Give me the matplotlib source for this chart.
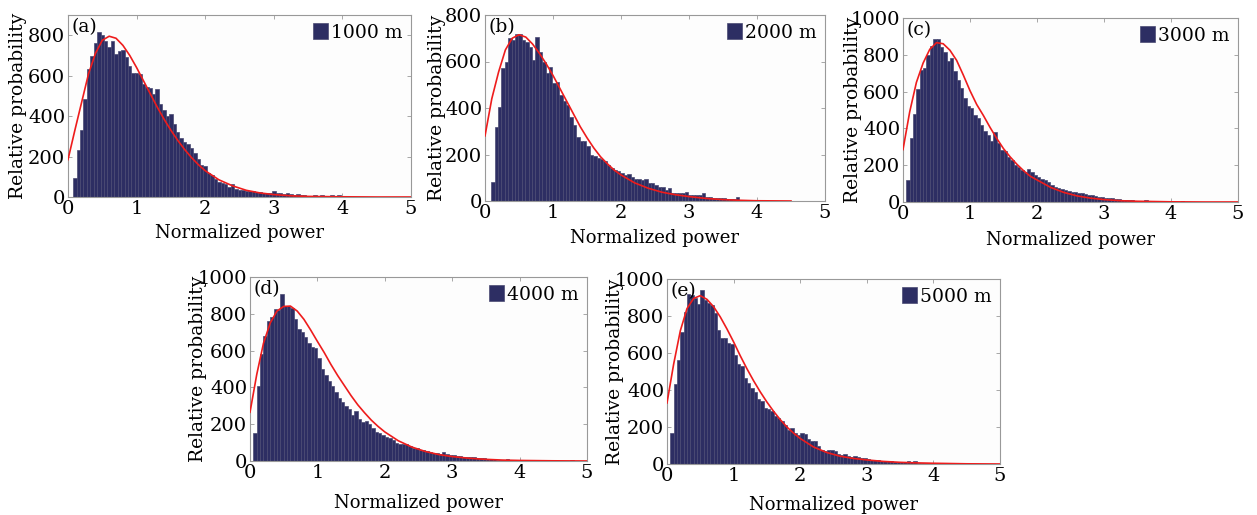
import matplotlib
matplotlib.use("Agg")
import matplotlib.pyplot as plt
import numpy as np

plt.rcParams['font.family'] = ['DejaVu Serif']

# ---------------- data ----------------
bin_width = 0.05
labels = ["(a)", "(b)", "(c)", "(d)", "(e)"]
distances = ["1000 m", "2000 m", "3000 m", "4000 m", "5000 m"]
first_bin = [0.10, 0.115, 0.075, 0.075, 0.075]
y_max = [900, 800, 1000, 1000, 1000]

hist_a = [95, 230, 330, 485, 635, 695, 760, 815, 800, 770, 740, 770, 705, 720, 725, 690,
          650, 615, 615, 610, 560, 545, 540, 510, 535, 460, 430, 400, 410, 360, 320, 290,
          270, 260, 240, 220, 190, 160, 155, 120, 110, 90, 75, 70, 65, 50, 62, 40, 35, 33,
          30, 28, 28, 27, 25, 22, 20, 22, 28, 20, 18, 15, 20, 14, 12, 16, 10, 9, 7, 6, 8, 7,
          10, 5, 4, 8, 4, 10, 3]
hist_b = [82, 320, 405, 570, 600, 700, 692, 720, 720, 692, 685, 664, 607, 704, 642, 600,
          549, 578, 506, 513, 456, 428, 413, 363, 327, 277, 256, 256, 235, 199, 192, 185,
          180, 170, 156, 142, 134, 127, 122, 112, 116, 105, 93, 93, 90, 93, 76, 76, 70, 62,
          59, 47, 57, 36, 36, 36, 36, 38, 26, 26, 26, 24, 33, 19, 19, 15, 11, 11, 11, 9, 8,
          7, 19, 4, 4, 3, 3, 2, 2, 2, 4, 2]
hist_c = [120, 350, 480, 615, 720, 728, 800, 850, 885, 885, 845, 815, 765, 780, 710, 665,
          620, 565, 522, 510, 475, 455, 420, 385, 365, 330, 378, 320, 285, 275, 245, 228,
          200, 192, 175, 165, 180, 165, 145, 136, 127, 118, 108, 92, 82, 78, 73, 67, 60, 56,
          55, 51, 50, 42, 40, 36, 31, 27, 27, 24, 22, 22, 18, 15, 13, 11, 9, 9, 7, 7, 7, 9,
          5, 4, 4, 2, 1, 1, 1, 1, 1, 1, 4]
hist_d = [150, 410, 580, 680, 760, 785, 825, 820, 905, 840, 840, 830, 770, 720, 700, 675,
          640, 620, 612, 560, 500, 465, 435, 405, 375, 345, 320, 300, 285, 250, 270, 230,
          210, 215, 200, 180, 160, 150, 140, 130, 125, 112, 100, 95, 90, 92, 80, 72, 68, 60,
          62, 55, 48, 45, 42, 40, 48, 38, 34, 30, 28, 25, 24, 22, 20, 22, 17, 16, 14, 12,
          11, 10, 8, 8, 7, 9, 8, 6, 6, 5, 5, 4, 4, 3, 2, 2, 2, 1, 1, 1, 1, 1, 1, 1, 8]
hist_e = [170, 430, 560, 715, 820, 920, 915, 900, 865, 940, 885, 870, 860, 815, 725, 680,
          680, 655, 650, 590, 540, 530, 465, 440, 410, 390, 350, 340, 305, 295, 285, 258,
          248, 230, 212, 185, 195, 168, 158, 165, 160, 137, 126, 122, 95, 78, 72, 78, 78, 68,
          56, 50, 54, 42, 38, 42, 36, 30, 30, 27, 23, 23, 20, 18, 18, 14, 14, 11, 11, 11, 9,
          14, 9, 14, 7, 7, 5, 5, 4, 4, 4, 3, 3, 3]

fit_x_a = [0, 0.1, 0.2, 0.3, 0.4, 0.5, 0.6, 0.7, 0.8, 0.9, 1.0, 1.1, 1.2, 1.3, 1.4, 1.5, 1.6,
           1.7, 1.8, 1.9, 2.0, 2.2, 2.4, 2.6, 2.8, 3.0, 3.25, 3.5, 4.0, 4.5, 5.0]
fit_y_a = [185, 330, 470, 610, 710, 775, 795, 785, 750, 700, 640, 575, 510, 445, 385, 330,
           280, 235, 195, 160, 130, 85, 55, 33, 20, 12, 6, 3, 1, 0, 0]
fit_x_b = [0, 0.1, 0.2, 0.3, 0.4, 0.5, 0.6, 0.7, 0.8, 0.9, 1.0, 1.1, 1.2, 1.3, 1.4, 1.5, 1.6,
           1.7, 1.8, 1.9, 2.0, 2.2, 2.4, 2.6, 2.8, 3.0, 3.25, 3.5, 3.75, 4.0, 4.5]
fit_y_b = [280, 440, 555, 650, 700, 715, 705, 675, 635, 590, 540, 485, 430, 375, 320, 272,
           228, 190, 160, 133, 112, 78, 55, 38, 27, 19, 11, 6, 3, 1, 0]
fit_x_c = [0, 0.1, 0.2, 0.3, 0.4, 0.5, 0.6, 0.7, 0.8, 0.9, 1.0, 1.1, 1.2, 1.3, 1.4, 1.5, 1.6,
           1.7, 1.8, 1.9, 2.0, 2.2, 2.4, 2.6, 2.8, 3.0, 3.25, 3.5, 4.0, 4.5, 5.0]
fit_y_c = [285, 490, 650, 755, 830, 866, 860, 825, 770, 690, 605, 530, 470, 405, 345, 290,
           245, 205, 170, 140, 120, 80, 52, 33, 21, 13, 7, 4, 1, 0, 0]
fit_x_d = [0, 0.1, 0.2, 0.3, 0.4, 0.5, 0.6, 0.7, 0.8, 0.9, 1.0, 1.1, 1.2, 1.3, 1.4, 1.5, 1.6,
           1.7, 1.8, 1.9, 2.0, 2.2, 2.4, 2.6, 2.8, 3.0, 3.25, 3.5, 3.75, 4.0, 4.5, 5.0]
fit_y_d = [265, 470, 640, 750, 815, 840, 842, 815, 770, 712, 650, 590, 525, 465, 410, 355,
           305, 262, 222, 188, 158, 110, 76, 52, 35, 24, 15, 9, 5, 3, 1, 0]
fit_x_e = [0, 0.1, 0.2, 0.3, 0.4, 0.5, 0.6, 0.7, 0.8, 0.9, 1.0, 1.1, 1.2, 1.3, 1.4, 1.5, 1.6,
           1.7, 1.8, 1.9, 2.0, 2.2, 2.4, 2.6, 2.8, 3.0, 3.25, 3.5, 3.75, 4.0, 4.5, 5.0]
fit_y_e = [330, 540, 720, 840, 895, 910, 890, 850, 795, 730, 660, 585, 515, 450, 390, 335,
           285, 240, 200, 167, 138, 92, 62, 42, 30, 22, 14, 9, 6, 4, 1, 0]

hists = [hist_a, hist_b, hist_c, hist_d, hist_e]
fits_x = [fit_x_a, fit_x_b, fit_x_c, fit_x_d, fit_x_e]
fits_y = [fit_y_a, fit_y_b, fit_y_c, fit_y_d, fit_y_e]

# ---------------- layout (pixel boxes: left, right, top, bottom) ----------------
W, H = 1257, 515
boxes = [(68, 411, 15, 197), (485, 825, 15, 201), (903, 1238, 18, 202),
         (250, 587, 277, 461), (667, 1000, 279, 464)]
ylab_off = [50, 48, 50, 52, 52]   # px left of axes
xlab_off = [36, 37, 38, 42, 41]   # px below axes

fig = plt.figure(figsize=(W / 100, H / 100), dpi=100)
fig.patch.set_facecolor('white')

bar_color = '#2d2e63'
for i in range(5):
    l, r, t, b = boxes[i]
    aw, ah = r - l, b - t
    ax = fig.add_axes([l / W, 1 - b / H, aw / W, ah / H])
    ax.set_facecolor('#fdfdfd')
    centers = first_bin[i] + bin_width * np.arange(len(hists[i]))
    ax.bar(centers, hists[i], width=bin_width, color=bar_color,
           edgecolor='#4a4a72', linewidth=0.5, label=distances[i], zorder=2)
    ax.plot(fits_x[i], fits_y[i], color='#ee1c1c', lw=1.2, zorder=3)
    ax.set_xlim(0, 5)
    ax.set_ylim(0, y_max[i])
    ax.set_xticks([0, 1, 2, 3, 4, 5])
    ax.set_yticks(np.arange(0, y_max[i] + 1, 200))
    ax.tick_params(direction='in', length=3, width=0.6, color='#999999',
                   top=True, right=True, labelsize=14, pad=2)
    for sp in ax.spines.values():
        sp.set_color('#999999')
        sp.set_linewidth(0.8)
    ax.set_xlabel('Normalized power', fontsize=13)
    ax.set_ylabel('Relative probability', fontsize=13.5)
    ax.yaxis.set_label_coords(-ylab_off[i] / aw, 0.5)
    ax.xaxis.set_label_coords(0.5, -xlab_off[i] / ah)
    ax.xaxis.label.set_va('center')
    ax.yaxis.label.set_va('center')
    ax.text(0.01, 0.985, labels[i], transform=ax.transAxes, fontsize=13.5,
            va='top', ha='left', zorder=5)
    ax.legend(loc='upper right', frameon=False, fontsize=13.5,
              handlelength=0.8, handleheight=0.9, handletextpad=0.15,
              borderaxespad=0.05)

fig.savefig('out.png', dpi=100, facecolor='white')
